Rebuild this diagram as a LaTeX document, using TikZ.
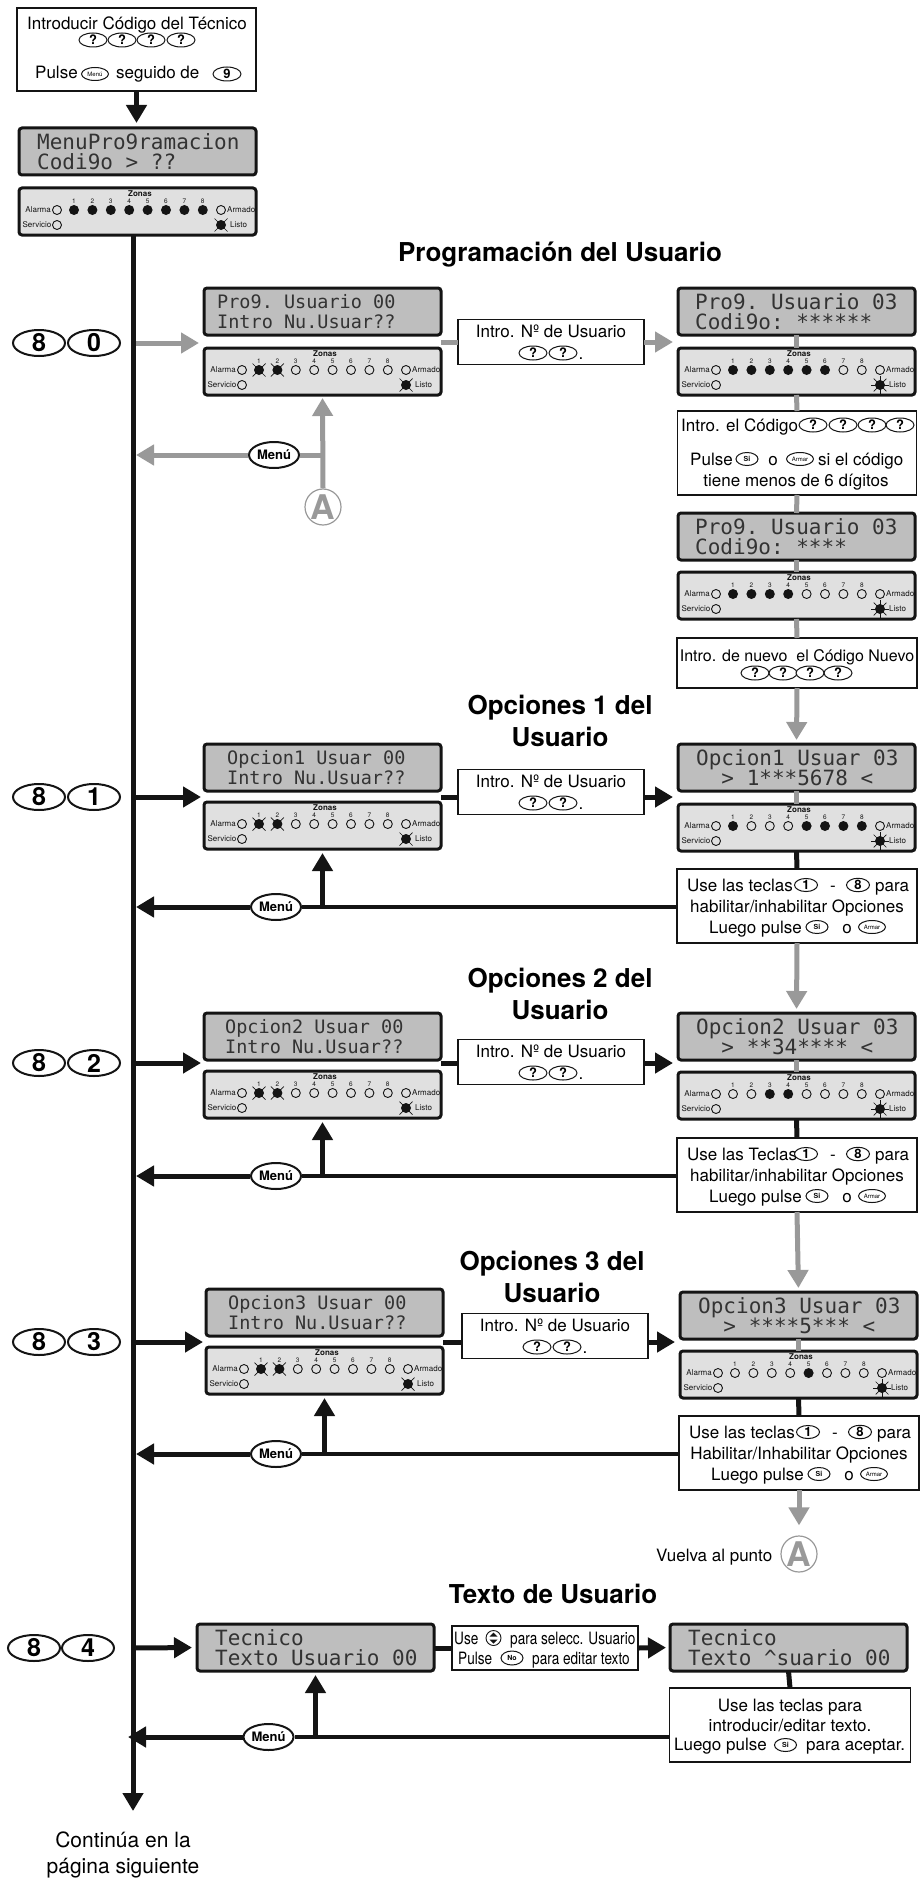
\documentclass[tikz,border=0pt]{standalone}
\usepackage{fontspec}
\usepackage{xcolor}
\usetikzlibrary{arrows.meta, positioning, calc, shapes.geometric}
\setmainfont{TeX Gyre Heros}
\setmonofont{DejaVu Sans Mono}
\newfontfamily\condensada[FakeStretch=0.8]{TeX Gyre Heros}
\definecolor{tinta}{HTML}{141414}
\definecolor{grisf}{HTML}{999999}
\definecolor{lcdtinta}{HTML}{333333}
\definecolor{lcdgris}{HTML}{BEBEBE}
\definecolor{panelgris}{HTML}{E0E0E0}
\tikzset{
  lcdcaja/.style={draw=tinta, fill=lcdgris, line width=3, rounded corners=3, minimum width=237, minimum height=47, inner sep=0, outer sep=0},
  panelcaja/.style={draw=tinta, fill=panelgris, line width=3, rounded corners=3, minimum width=237, minimum height=47, inner sep=0, outer sep=0},
  lcdtxt/.style={anchor=west, inner sep=0, text=lcdtinta, font=\ttfamily\fontsize{21}{20}\selectfont},
  lcdchico/.style={lcdtxt, font=\ttfamily\fontsize{18.5}{20}\selectfont},
  cuadro/.style={draw=tinta, fill=white, line width=1.2, inner sep=0, outer sep=0},
  txt/.style={anchor=base, inner sep=0, text=black, font=\fontsize{17}{19}\selectfont},
  izq/.style={txt, anchor=base west},
  cond/.style={anchor=base west, inner sep=0, font=\condensada\fontsize{17}{19}\selectfont},
  titulo/.style={align=center, inner sep=0, font=\bfseries\fontsize{26}{32}\selectfont},
  rotulo/.style={inner sep=0, text=tinta, font=\fontsize{8}{9}\selectfont},
  numero/.style={inner sep=0, text=tinta, font=\fontsize{6.5}{7}\selectfont},
  tecla/.style={ellipse, draw=tinta, fill=white, line width=1, inner sep=0, minimum width=28, minimum height=14, font=\bfseries\fontsize{13}{13}\selectfont},
  teclanum/.style={tecla, minimum width=23, minimum height=13},
  teclita/.style={tecla, minimum width=22, minimum height=13, font=\bfseries\fontsize{7}{7}\selectfont},
  teclaar/.style={teclita, minimum width=27, font=\fontsize{6}{6}\selectfont},
  teclagrande/.style={tecla, line width=2, minimum width=52, minimum height=26, font=\bfseries\fontsize{25}{25}\selectfont},
  menu/.style={ellipse, draw=tinta, fill=white, line width=2, inner sep=0, minimum width=50, minimum height=26, font=\bfseries\fontsize{13}{13}\selectfont},
  puntoA/.style={circle, draw=grisf, line width=1.2, inner sep=0, minimum size=36, text=grisf, font=\bfseries\fontsize{34}{34}\selectfont},
  linea/.style={line width=5, color=tinta},
  lineag/.style={line width=5, color=grisf},
  ledoff/.pic={\draw[tinta, line width=0.9] (0,0) circle (4.5);},
  ledon/.pic={\fill[tinta] (0,0) circle (5);},
  ledx/.pic={
    \fill[tinta] (0,0) circle (5);
    \draw[tinta, line width=0.7] (-6.5,-6.5) -- (6.5,6.5) (-6.5,6.5) -- (6.5,-6.5);
  },
  ledsol/.pic={
    \fill[tinta] (0,0) circle (5);
    \foreach \a in {0,45,...,315} {\draw[tinta, line width=0.7] (0,0) -- (\a:9);}
  }
}
% LCD display: name, x, y, text style, text offset, alignment, text
\newcommand{\lcd}[7]{
  \node[lcdcaja] (#1) at (#2+119.5,#3+24.5) {};
  \node[#4, align=#6] (#1-txt) at (#2+#5,#3+25) {#7};
}
% LED panel: name, x, y, zone LEDs, Listo LED
\newcommand{\ledpanel}[5]{
  \begin{scope}[shift={(#2,#3)}]
    \node[panelcaja] (#1) at (119.5,24.5) {};
    \node[rotulo] (#1-zonas) at (122,7) {\textbf{Zonas}};
    \foreach \s [count=\i] in {#4} {
      \pic at ({37.6+18.4*\i},23) {\s};
      \node[numero] (#1-n\i) at ({37.6+18.4*\i},14) {\i};
    }
    \pic at (39,23) {ledoff};
    \pic at (39,38) {ledoff};
    \pic at (203,23) {ledoff};
    \pic at (203,38) {#5};
    \node[rotulo, anchor=east] (#1-alarma) at (33,23) {Alarma};
    \node[rotulo, anchor=east] (#1-servicio) at (33.5,38) {Servicio};
    \node[rotulo, anchor=west] (#1-armado) at (209,23) {Armado};
    \node[rotulo, anchor=west] (#1-listo) at (212,38) {Listo};
  \end{scope}
}
% middle box with the user number
\newcommand{\cajauser}[3]{
  \node[cuadro, minimum width=186, minimum height=45] (#1) at (#2,#3) {};
  \node[txt] (#1-t) at (#2,#3-5) {Intro. Nº de Usuario};
  \node[tecla] (#1-k1) at (#2-18,#3+11) {?};
  \node[tecla] (#1-k2) at (#2+12,#3+11) {?};
  \node[txt] (#1-p) at (#2+30,#3+17) {.};
}
% box under the options LEDs
\newcommand{\cajaopcion}[5]{
  \begin{scope}[shift={(#2,#3)}]
    \node[cuadro, minimum width=240, minimum height=74] (#1) at (120,37) {};
    \node[izq] (#1-a) at (10,22) {#4};
    \node[teclanum] (#1-k1) at (129,16) {1};
    \node[txt] (#1-g) at (156,22) {-};
    \node[teclanum] (#1-k8) at (181,16) {8};
    \node[izq] (#1-b) at (198,22) {para};
    \node[txt] (#1-c) at (120,43) {#5};
    \node[izq] (#1-d) at (32,64) {Luego pulse};
    \node[teclita] (#1-si) at (140,58) {Si};
    \node[txt] (#1-o) at (170,64) {o};
    \node[teclaar] (#1-ar) at (195,58) {Armar};
  \end{scope}
}
\begin{document}
\begin{tikzpicture}[>={Triangle[width=20pt,length=18pt]}, x=1pt, y=-1pt]
  \useasboundingbox (0,0) rectangle (919,1881);
  % Start
  \node[cuadro, minimum width=239, minimum height=83] (inicio) at (136.5,49.5) {};
  \node[txt] (inicio-t) at (137,30) {Introducir Código del Técnico};
  \foreach \i/\x in {1/93,2/122,3/151,4/181} {
    \node[tecla] (inicio-k\i) at (\x,40) {?};
  }
  \node[izq] (inicio-p) at (35,79) {Pulse};
  \node[teclaar] (inicio-m) at (95,74) {Menú};
  \node[izq] (inicio-s) at (116,79) {seguido de};
  \node[tecla] (inicio-n) at (227,74) {9};
  \lcd{lcd0}{18}{127}{lcdtxt}{19}{left}{MenuPro9ramacion\\Codi9o > ??}
  \ledpanel{panel0}{18}{187}{ledon,ledon,ledon,ledon,ledon,ledon,ledon,ledon}{ledx}
  \draw[linea, ->, shorten >=5] (inicio.south) -- (inicio.south |- lcd0.north);
  % Titles
  \node[titulo] (tit0) at (560,255) {Programación del Usuario};
  \node[titulo] (tit1) at (560,721) {Opciones 1 del\\Usuario};
  \node[titulo] (tit2) at (560,994) {Opciones 2 del\\Usuario};
  \node[titulo] (tit3) at (552,1277) {Opciones 3 del\\Usuario};
  \node[titulo] (tit4) at (553,1594) {Texto de Usuario};
  % Keys on the left
  \foreach \n/\y in {0/343,1/797,2/1063,3/1342} {
    \node[teclagrande] (ocho\n) at (39,\y) {8};
    \node[teclagrande] (dig\n) at (94,\y) {\n};
  }
  \node[teclagrande] (ocho4) at (34,1648) {8};
  \node[teclagrande] (dig4) at (88,1648) {4};
  % Trunk
  \coordinate (tronco) at (133,236);
  \coordinate (fin) at (133,1811);
  % Programacion del Usuario
  \lcd{lcd80}{203}{287}{lcdchico}{14}{left}{Pro9. Usuario 00\\Intro Nu.Usuar??}
  \ledpanel{panel80}{203}{347}{ledx,ledx,ledoff,ledoff,ledoff,ledoff,ledoff,ledoff}{ledx}
  \cajauser{mid80}{551}{342}
  \lcd{lcdr80}{677}{287}{lcdtxt}{18}{left}{Pro9. Usuario 03\\Codi9o: ******}
  \ledpanel{panelr80}{677}{347}{ledon,ledon,ledon,ledon,ledon,ledon,ledoff,ledoff}{ledsol}
  \node[cuadro, minimum width=239, minimum height=84] (codigo) at (797,453) {};
  \node[izq] (codigo-a) at (681,431) {Intro. el Código};
  \foreach \i/\x in {1/813,2/843,3/872,4/900} {
    \node[tecla] (codigo-k\i) at (\x,425) {?};
  }
  \node[izq] (codigo-b) at (690,465) {Pulse};
  \node[teclita] (codigo-si) at (747,459) {Si};
  \node[txt] (codigo-o) at (773,465) {o};
  \node[teclaar] (codigo-ar) at (800,459) {Armar};
  \node[izq] (codigo-c) at (818,465) {si el código};
  \node[txt] (codigo-d) at (796,486) {tiene menos de 6 dígitos};
  \lcd{lcdq80}{677}{512}{lcdtxt}{18}{left}{Pro9. Usuario 03\\Codi9o: ****}
  \ledpanel{panelq80}{677}{571}{ledon,ledon,ledon,ledon,ledoff,ledoff,ledoff,ledoff}{ledsol}
  \node[cuadro, minimum width=240, minimum height=50] (nuevo) at (797,663) {};
  \node[txt, font=\fontsize{16}{18}\selectfont] (nuevo-t) at (797,661) {Intro. de nuevo\ \ el Código Nuevo};
  \foreach \i/\x in {1/755,2/783,3/810,4/838} {
    \node[tecla] (nuevo-k\i) at (\x,673) {?};
  }
  \node[menu] (menu80) at (274,455) {Menú};
  \node[puntoA] (a80) at (323,507) {A};
  \draw[lineag, ->, shorten >=5] (tronco |- dig0) -- (tronco |- dig0 -| lcd80.west);
  \draw[lineag] (lcd80.east |- mid80) -- (mid80.west);
  \draw[lineag, ->, shorten >=5] (mid80.east) -- (mid80 -| lcdr80.west);
  \draw[lineag] (lcdr80.south) -- (panelr80.north);
  \draw[lineag] (panelr80.south) -- (codigo.north);
  \draw[lineag] (codigo.south) -- (lcdq80.north);
  \draw[lineag] (lcdq80.south) -- (panelq80.north);
  \draw[lineag] (panelq80.south) -- (nuevo.north);
  \draw[lineag, ->, shorten >=3] (a80.north) -- (panel80.south);
  \draw[lineag] (menu80.east) -- (panel80 |- menu80);
  \draw[lineag, ->, shorten >=3] (menu80.west) -- (tronco |- menu80);
  % Opciones 1
  \lcd{lcd81}{203}{743}{lcdchico}{24}{center}{Opcion1 Usuar 00\\Intro Nu.Usuar??}
  \ledpanel{panel81}{203}{801}{ledx,ledx,ledoff,ledoff,ledoff,ledoff,ledoff,ledoff}{ledx}
  \cajauser{mid81}{551}{792}
  \lcd{lcdr81}{677}{743}{lcdtxt}{19}{center}{Opcion1 Usuar 03\\> 1***5678 <}
  \ledpanel{panelr81}{677}{803}{ledon,ledoff,ledoff,ledoff,ledon,ledon,ledon,ledon}{ledsol}
  \cajaopcion{caja81}{677}{869}{Use las teclas}{habilitar/inhabilitar Opciones}
  \node[menu] (menu81) at (276,907) {Menú};
  % Opciones 2
  \lcd{lcd82}{203}{1012}{lcdchico}{22}{center}{Opcion2 Usuar 00\\Intro Nu.Usuar??}
  \ledpanel{panel82}{203}{1070}{ledx,ledx,ledoff,ledoff,ledoff,ledoff,ledoff,ledoff}{ledx}
  \cajauser{mid82}{551}{1062}
  \lcd{lcdr82}{677}{1012}{lcdtxt}{19}{center}{Opcion2 Usuar 03\\> **34**** <}
  \ledpanel{panelr82}{677}{1071}{ledoff,ledoff,ledon,ledon,ledoff,ledoff,ledoff,ledoff}{ledsol}
  \cajaopcion{caja82}{677}{1138}{Use las Teclas}{habilitar/inhabilitar Opciones}
  \node[menu] (menu82) at (276,1176) {Menú};
  % Opciones 3
  \lcd{lcd83}{205}{1288}{lcdchico}{23}{center}{Opcion3 Usuar 00\\Intro Nu.Usuar??}
  \ledpanel{panel83}{205}{1346}{ledx,ledx,ledoff,ledoff,ledoff,ledoff,ledoff,ledoff}{ledx}
  \cajauser{mid83}{555}{1336}
  \lcd{lcdr83}{679}{1291}{lcdtxt}{19}{center}{Opcion3 Usuar 03\\> ****5*** <}
  \ledpanel{panelr83}{679}{1350}{ledoff,ledoff,ledoff,ledoff,ledon,ledoff,ledoff,ledoff}{ledsol}
  \cajaopcion{caja83}{679}{1416}{Use las teclas}{Habilitar/Inhabilitar Opciones}
  \node[menu] (menu83) at (276,1454) {Menú};
  % Connectors of the three option rows
  \foreach \r/\k in {81/1,82/2,83/3} {
    \draw[linea, ->, shorten >=3] (tronco |- dig\k) -- (tronco |- dig\k -| lcd\r.west);
    \draw[linea] (lcd\r.east |- dig\k) -- (mid\r.west |- dig\k);
    \draw[linea, ->, shorten >=5] (mid\r.east |- dig\k) -- (lcdr\r.west |- dig\k);
    \draw[linea] (panelr\r.south) -- (caja\r.north);
    \draw[line width=4, color=tinta] (caja\r.west |- menu\r) -- (menu\r.east);
    \draw[linea, ->, shorten >=4] (panel\r |- menu\r) -- (panel\r.south);
    \draw[linea, ->, shorten >=3] (menu\r.west) -- (tronco |- menu\r);
    \draw[lineag] (lcdr\r.south) -- (panelr\r.north);
  }
  \draw[lineag, ->, shorten >=4] (nuevo.south) -- (lcdr81.north);
  \draw[lineag, ->, shorten >=4] (caja81.south) -- (lcdr82.north);
  \draw[lineag, ->, shorten >=4] (caja82.south) -- (lcdr83.north);
  % Back to A
  \node[izq] (vuelva) at (656,1561) {Vuelva al punto};
  \node[puntoA] (a83) at (799,1554) {A};
  \draw[lineag, ->, shorten >=10] (caja83.south) -- (a83.north);
  % Texto de Usuario
  \lcd{lcd84}{196}{1623}{lcdtxt}{19}{left}{Tecnico\\Texto Usuario 00}
  \node[cuadro, minimum width=186, minimum height=44] (mid84) at (545,1648) {};
  \node[cond] (mid84-a) at (454,1644) {Use};
  \node[circle, draw=tinta, line width=0.9, minimum size=15, inner sep=0] (mid84-fl) at (493.5,1638) {};
  \fill[tinta] (493.5,1632.5) -- ++(4,4) -- ++(-8,0) -- cycle;
  \fill[tinta] (493.5,1643.5) -- ++(4,-4) -- ++(-8,0) -- cycle;
  \node[cond] (mid84-b) at (510,1644) {para selecc. Usuario};
  \node[cond] (mid84-c) at (458,1664) {Pulse};
  \node[teclita, minimum height=14] (mid84-no) at (512,1658) {No};
  \node[cond] (mid84-d) at (532,1664) {para editar texto};
  \lcd{lcdr84}{669}{1623}{lcdtxt}{19}{left}{Tecnico\\Texto \textasciicircum suario 00}
  \node[cuadro, minimum width=241, minimum height=74] (caja84) at (790,1725) {};
  \node[txt] (caja84-a) at (790,1711) {Use las teclas para};
  \node[txt] (caja84-b) at (790,1731) {introducir/editar texto.};
  \node[izq] (caja84-c) at (674,1750) {Luego pulse};
  \node[teclita] (caja84-si) at (785.5,1745) {Si};
  \node[izq] (caja84-d) at (806,1750) {para aceptar.};
  \node[menu] (menu84) at (268.5,1737) {Menú};
  \draw[linea, ->, shorten >=5] (tronco |- mid84) -- (lcd84.west);
  \draw[linea] (lcd84.east |- mid84) -- (mid84.west);
  \draw[linea, ->, shorten >=4] (mid84.east) -- (lcdr84.west);
  \draw[linea] (lcdr84.south) -- (caja84.north);
  \draw[line width=4, color=tinta] (caja84.west |- menu84) -- (menu84.east);
  \draw[linea, ->, shorten >=4] (lcd84 |- menu84) -- (lcd84.south);
  \draw[linea, ->, shorten >=-5] (menu84.west) -- (tronco |- menu84);
  % Trunk on top, and end text
  \draw[linea, ->] (tronco) -- (fin);
  \node[txt, align=center, font=\fontsize{21}{26}\selectfont, anchor=north] (sigue) at (123,1832) {Continúa en la\\página siguiente};
\end{tikzpicture}
\end{document}
